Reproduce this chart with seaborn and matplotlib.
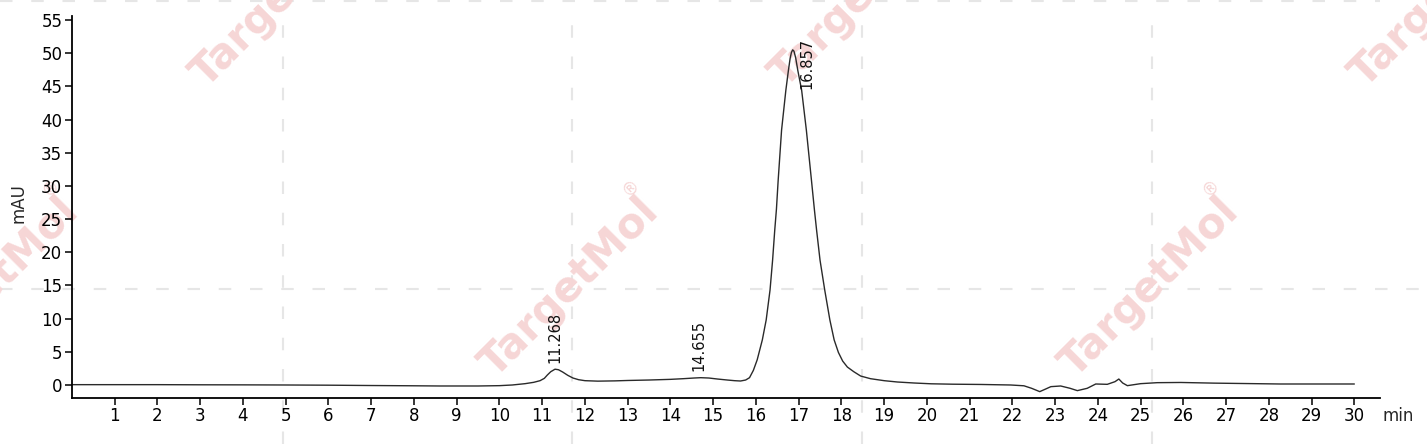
import matplotlib
matplotlib.use("Agg")
import matplotlib.pyplot as plt
from matplotlib.lines import Line2D
import numpy as np
import seaborn as sns

# retention time (min) and signal (mAU)
rt_min = [0.0, 1.0, 2.0, 3.0, 4.0, 5.0, 6.0, 7.0, 8.0, 8.6, 9.5, 10.0, 10.3, 10.6,
          10.8, 10.95, 11.05, 11.12, 11.2, 11.3, 11.38, 11.48, 11.6, 11.72, 11.85,
          12.0, 12.3, 12.7, 13.0, 13.5, 14.0, 14.3, 14.55, 14.71, 14.9, 15.1, 15.33,
          15.5, 15.64, 15.76, 15.85, 15.94, 16.03, 16.15, 16.24, 16.33, 16.39, 16.44,
          16.48, 16.52, 16.6, 16.7, 16.76, 16.8, 16.83, 16.86, 16.89, 16.93, 16.98,
          17.07, 17.18, 17.3, 17.37, 17.42, 17.5, 17.61, 17.73, 17.83, 17.93, 18.03,
          18.14, 18.29, 18.45, 18.68, 19.0, 19.31, 19.7, 20.1, 20.6, 21.26, 21.96,
          22.27, 22.45, 22.64, 22.78, 22.9, 23.13, 23.35, 23.52, 23.75, 23.95, 24.22,
          24.4, 24.49, 24.58, 24.69, 25.0, 25.39, 25.94, 26.72, 28.27, 30.0]
signal_mau = [0.05, 0.05, 0.05, 0.03, 0.02, 0.0, -0.03, -0.08, -0.12, -0.15, -0.15, -0.1,
              0.0, 0.2, 0.4, 0.65, 1.0, 1.5, 2.0, 2.38, 2.3, 1.95, 1.45, 1.05, 0.8,
              0.65, 0.58, 0.62, 0.68, 0.75, 0.85, 0.95, 1.05, 1.1, 1.05, 0.9, 0.75,
              0.65, 0.6, 0.75, 1.1, 2.2, 3.8, 6.8, 9.8, 14.3, 18.8, 23.3,
              26.5, 30.8, 38.4, 44.4, 47.4, 49.2, 50.1, 50.5, 50.3, 49.3, 47.4,
              44.4, 38.4, 30.8, 26.3, 23.3, 18.8, 14.3, 9.8, 6.8, 4.9, 3.6,
              2.7, 2.0, 1.35, 0.95, 0.65, 0.45, 0.3, 0.18, 0.12, 0.08, 0.0,
              -0.12, -0.5, -1.0, -0.6, -0.25, -0.15, -0.5, -0.85, -0.5, 0.15, 0.1,
              0.5, 0.9, 0.3, -0.1, 0.2, 0.35, 0.38, 0.28, 0.15, 0.15]

peak_rt = [11.268, 14.655, 16.857]
peak_labels = ["11.268", "14.655", "16.857"]

x_ticks = list(range(1, 31))
y_ticks = list(range(0, 56, 5))

W, H = 1427, 444

sns.set_style("ticks")
plt.rcParams["font.family"] = ["DejaVu Sans"]

fig = plt.figure(figsize=(W / 100, H / 100), dpi=100)
ax = fig.add_axes([72 / W, 1 - 398 / H, (1380 - 72) / W, (398 - 16) / H])
ax.set_facecolor("none")

# background dashed tiling + watermark
grid_kw = dict(transform=fig.transFigure, color="#e6e6e6", lw=1.5,
               ls=(0, (6, 9)), zorder=-3)
for gx in [283, 572, 862, 1152]:
    fig.add_artist(Line2D([gx / W, gx / W], [0, 1 - 20 / H], **grid_kw))
fig.add_artist(Line2D([0, 1], [1 - 289 / H, 1 - 289 / H], **grid_kw))
fig.add_artist(Line2D([0, 1380 / W], [1 - 1 / H, 1 - 1 / H], **grid_kw))

wm_centers = [(570, 287), (1150, 287), (-10, 287), (281, -3), (860, -3), (1440, -3)]
for cx, cy in wm_centers:
    fig.text(cx / W, 1 - cy / H, "TargetMol", rotation=45, ha="center", va="center",
             rotation_mode="anchor", fontsize=30, fontweight="bold",
             color="#f6d6d6", zorder=-2)
    fig.text((cx + 61) / W, 1 - (cy - 100) / H, "®", rotation=45, ha="center",
             va="center", fontsize=12, color="#f6d6d6", zorder=-2)

sns.lineplot(x=rt_min, y=signal_mau, ax=ax, color="#2a2a2a", linewidth=1.0,
             estimator=None, sort=False)

# peak labels
label_shift = {"16.857": (0.33, -5.9)}
for rt, lab in zip(peak_rt, peak_labels):
    base = np.interp(rt, rt_min, signal_mau)
    dx, dy = label_shift.get(lab, (0.02, 1.05))
    ax.text(rt + dx, base + dy, lab, rotation=90, ha="center", va="bottom",
            fontsize=10.5, color="#111111")

ax.set_xlim(0, 30.6)
ax.set_ylim(-1.96, 55.6)
ax.set_xticks(x_ticks)
ax.set_yticks(y_ticks)
ax.set_xlabel("")
ax.set_ylabel("mAU", fontsize=12)
ax.yaxis.set_label_coords(-0.034, 0.51)
ax.text((1398 - 72) / 1308, -0.047, "min", transform=ax.transAxes,
        ha="center", va="center", fontsize=12)

sns.despine(ax=ax)
for side in ["left", "bottom"]:
    ax.spines[side].set_linewidth(1.3)
    ax.spines[side].set_color("black")
ax.tick_params(axis="both", direction="out", length=5, width=1.1,
               labelsize=12, colors="black")
ax.tick_params(axis="x", pad=1.5)
ax.tick_params(axis="y", pad=2)

fig.savefig("out.png", dpi=100, facecolor="white")
